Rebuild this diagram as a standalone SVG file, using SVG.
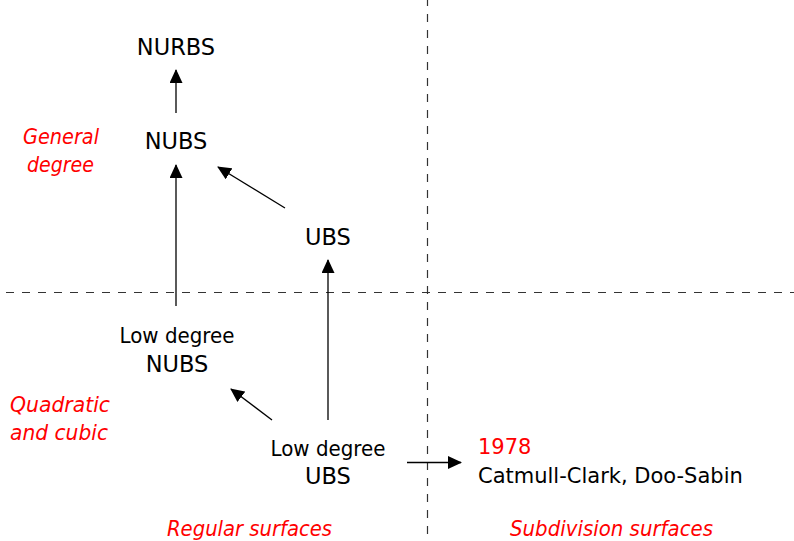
<svg xmlns="http://www.w3.org/2000/svg" width="794" height="541" viewBox="0 0 794 541">
  <defs>
    <marker id="arrowhead" markerUnits="userSpaceOnUse" markerWidth="14" markerHeight="13" refX="13" refY="6.5" orient="auto">
      <path d="M0,0 L14,6.5 L0,13 Z" fill="#000"/>
    </marker>
    <style>
      text { font-family: "DejaVu Sans", "Liberation Sans", sans-serif; font-size: 21px; fill: #000; }
      .node text { text-anchor: middle; }
      .caps { font-size: 22.5px; }
      .note { fill: #ff0000; font-style: italic; font-size: 21px; }
      .year { fill: #ff0000; }
      .divider { stroke: #333; stroke-width: 1.2; stroke-dasharray: 8 8; fill: none; }
      .edge { stroke: #000; stroke-width: 1.3; fill: none; marker-end: url(#arrowhead); }
    </style>
  </defs>

  <rect width="794" height="541" fill="#fff"/>

  <!-- quadrant dividers -->
  <g id="dividers">
    <line class="divider" x1="0" y1="292.5" x2="794" y2="292.5" stroke-dashoffset="10"/>
    <line class="divider" x1="427.5" y1="0" x2="427.5" y2="541" stroke-dashoffset="2"/>
  </g>

  <!-- region labels -->
  <g id="labels">
    <text class="note" x="23" y="144" textLength="76" lengthAdjust="spacingAndGlyphs">General</text>
    <text class="note" x="27" y="172" textLength="67" lengthAdjust="spacingAndGlyphs">degree</text>
    <text class="note" x="10" y="412" textLength="100" lengthAdjust="spacingAndGlyphs">Quadratic</text>
    <text class="note" x="10" y="440" textLength="98" lengthAdjust="spacingAndGlyphs">and cubic</text>
    <text class="note" x="167" y="536" textLength="165" lengthAdjust="spacingAndGlyphs">Regular surfaces</text>
    <text class="note" x="510" y="536" textLength="203" lengthAdjust="spacingAndGlyphs">Subdivision surfaces</text>
  </g>

  <!-- nodes -->
  <g id="nurbs" class="node">
    <text class="caps" x="176" y="55">NURBS</text>
  </g>
  <g id="nubs" class="node">
    <text class="caps" x="176" y="149">NUBS</text>
  </g>
  <g id="ubs" class="node">
    <text class="caps" x="328" y="245">UBS</text>
  </g>
  <g id="low-nubs" class="node">
    <text x="177" y="343" textLength="115" lengthAdjust="spacingAndGlyphs">Low degree</text>
    <text class="caps" x="177" y="372">NUBS</text>
  </g>
  <g id="low-ubs" class="node">
    <text x="328" y="456" textLength="115" lengthAdjust="spacingAndGlyphs">Low degree</text>
    <text class="caps" x="328" y="484">UBS</text>
  </g>
  <g id="subdivision">
    <text class="year" x="478" y="454">1978</text>
    <text x="478" y="483">Catmull-Clark, Doo-Sabin</text>
  </g>

  <!-- connectors -->
  <g id="connectors">
    <line class="edge" x1="176" y1="113" x2="176" y2="70"/>
    <line class="edge" x1="176" y1="306" x2="176" y2="165"/>
    <line class="edge" x1="285" y1="208" x2="218" y2="167"/>
    <line class="edge" x1="328" y1="420" x2="328" y2="260"/>
    <line class="edge" x1="272" y1="420" x2="231" y2="389"/>
    <line class="edge" x1="407" y1="462.5" x2="461" y2="462.5"/>
  </g>
</svg>
